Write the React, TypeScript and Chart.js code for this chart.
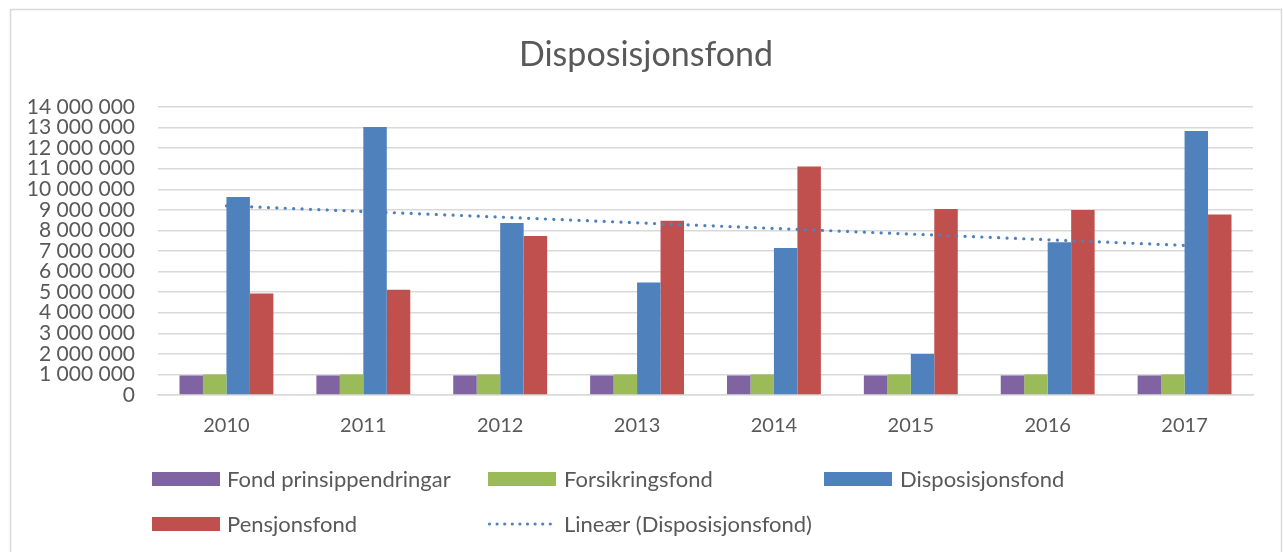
import React, { useEffect, useRef } from "react";
import { Chart, registerables } from "chart.js";

Chart.register(...registerables);

// ---- data ----
const years = ["2010", "2011", "2012", "2013", "2014", "2015", "2016", "2017"];
const fondPrinsippendringar = [950000, 950000, 950000, 950000, 950000, 950000, 950000, 950000];
const forsikringsfond = [1000000, 1000000, 1000000, 1000000, 1000000, 1000000, 1000000, 1000000];
const disposisjonsfond = [9630000, 13030000, 8360000, 5470000, 7150000, 1990000, 7420000, 12830000];
const pensjonsfond = [4940000, 5120000, 7730000, 8470000, 11110000, 9040000, 8990000, 8770000];
const yMin = 0;
const yMax = 14000000;
const yStep = 1000000;

const chartTitle = "Disposisjonsfond";
const seriesNames = [
  "Fond prinsippendringar",
  "Forsikringsfond",
  "Disposisjonsfond",
  "Pensjonsfond",
  "Lineær (Disposisjonsfond)",
];

// Excel-style linear trendline (least squares) of the Disposisjonsfond series
function linearTrend(values: number[]): number[] {
  const n = values.length;
  const xs = values.map((_, i) => i + 1);
  const mx = xs.reduce((a, b) => a + b, 0) / n;
  const my = values.reduce((a, b) => a + b, 0) / n;
  let sxy = 0;
  let sxx = 0;
  for (let i = 0; i < n; i++) {
    sxy += (xs[i] - mx) * (values[i] - my);
    sxx += (xs[i] - mx) * (xs[i] - mx);
  }
  const slope = sxy / sxx;
  return xs.map((x) => my + slope * (x - mx));
}

const COLORS = {
  purple: "#8064A2",
  green: "#9BBB59",
  blue: "#4F81BD",
  red: "#C0504D",
  text: "#595959",
  grid: "#D9D9D9",
};
const FONT = "Lato, 'Open Sans', sans-serif";

const fmt = (v: number) => String(v).replace(/\B(?=(\d{3})+(?!\d))/g, " ");

const decorPlugin = {
  id: "decor",
  beforeDraw(chart: any) {
    const ctx = chart.ctx;
    ctx.save();
    ctx.fillStyle = "#FFFFFF";
    ctx.fillRect(0, 0, chart.width, chart.height);
    ctx.strokeStyle = COLORS.grid;
    ctx.lineWidth = 1.5;
    ctx.strokeRect(10.5, 9.5, 1271, 560);
    ctx.restore();
  },
  afterDraw(chart: any) {
    const ctx = chart.ctx;
    ctx.save();
    // title
    ctx.fillStyle = COLORS.text;
    ctx.font = `34px ${FONT}`;
    ctx.textAlign = "center";
    ctx.textBaseline = "alphabetic";
    ctx.fillText(chartTitle, 646, 66);

    // legend
    const r1 = 479;
    const r2 = 524;
    const items = [
      { kind: "box", color: COLORS.purple, x0: 152, tx: 227, y: r1, label: seriesNames[0] },
      { kind: "box", color: COLORS.green, x0: 488, tx: 564, y: r1, label: seriesNames[1] },
      { kind: "box", color: COLORS.blue, x0: 824, tx: 900, y: r1, label: seriesNames[2] },
      { kind: "box", color: COLORS.red, x0: 152, tx: 227, y: r2, label: seriesNames[3] },
      { kind: "dots", color: COLORS.blue, x0: 488, tx: 564, y: r2, label: seriesNames[4] },
    ];
    ctx.textAlign = "left";
    ctx.textBaseline = "middle";
    ctx.font = `22px ${FONT}`;
    for (const it of items) {
      ctx.fillStyle = it.color;
      if (it.kind === "box") {
        ctx.fillRect(it.x0, it.y - 7, 68, 14);
      } else {
        for (let x = it.x0 + 1.5; x <= it.x0 + 68; x += 7.6) {
          ctx.beginPath();
          ctx.arc(x, it.y, 1.6, 0, Math.PI * 2);
          ctx.fill();
        }
      }
      ctx.fillStyle = COLORS.text;
      ctx.fillText(it.label, it.tx, it.y + 1);
    }
    ctx.restore();
  },
};

export default function App() {
  const canvasRef = useRef<HTMLCanvasElement | null>(null);

  useEffect(() => {
    const canvas = canvasRef.current;
    if (!canvas) return;
    const trend = linearTrend(disposisjonsfond);
    const barCommon = {
      type: "bar" as const,
      categoryPercentage: 0.686,
      barPercentage: 1.0,
      borderWidth: 0,
      order: 1,
    };
    const chart = new Chart(canvas, {
      type: "bar",
      data: {
        labels: years,
        datasets: [
          { ...barCommon, label: seriesNames[0], data: fondPrinsippendringar, backgroundColor: COLORS.purple },
          { ...barCommon, label: seriesNames[1], data: forsikringsfond, backgroundColor: COLORS.green },
          { ...barCommon, label: seriesNames[2], data: disposisjonsfond, backgroundColor: COLORS.blue },
          { ...barCommon, label: seriesNames[3], data: pensjonsfond, backgroundColor: COLORS.red },
          {
            type: "line" as const,
            label: seriesNames[4],
            data: trend,
            borderColor: COLORS.blue,
            borderWidth: 3.2,
            borderDash: [0.1, 8.3],
            borderCapStyle: "round",
            pointRadius: 0,
            fill: false,
            tension: 0,
            order: 0,
          } as any,
        ],
      },
      options: {
        responsive: false,
        animation: false,
        devicePixelRatio: 1,
        layout: { padding: { left: 8, top: 107, right: 30, bottom: 100 } },
        plugins: {
          legend: { display: false },
          title: { display: false },
          tooltip: { enabled: false },
        },
        scales: {
          x: {
            offset: true,
            grid: { display: false, drawTicks: false },
            border: { display: true, color: COLORS.grid, width: 1.5 },
            ticks: {
              color: COLORS.text,
              font: { family: FONT, size: 20 },
              padding: 19,
              maxRotation: 0,
              autoSkip: false,
            },
            afterFit: (s: any) => {
              s.height = 57;
            },
          },
          y: {
            min: yMin,
            max: yMax,
            grid: { color: COLORS.grid, lineWidth: 1.5, drawTicks: false },
            border: { display: false },
            ticks: {
              stepSize: yStep,
              autoSkip: false,
              color: COLORS.text,
              font: { family: FONT, size: 21 },
              padding: 23,
              callback: (v: any) => fmt(Number(v)),
            },
            afterFit: (s: any) => {
              s.width = 150;
            },
          },
        },
      },
      plugins: [decorPlugin],
    });
    return () => chart.destroy();
  }, []);

  return (
    <div style={{ position: "absolute", left: 0, top: 0, width: 1283, height: 552, background: "#fff" }}>
      <canvas ref={canvasRef} width={1283} height={552} style={{ display: "block" }} />
    </div>
  );
}
